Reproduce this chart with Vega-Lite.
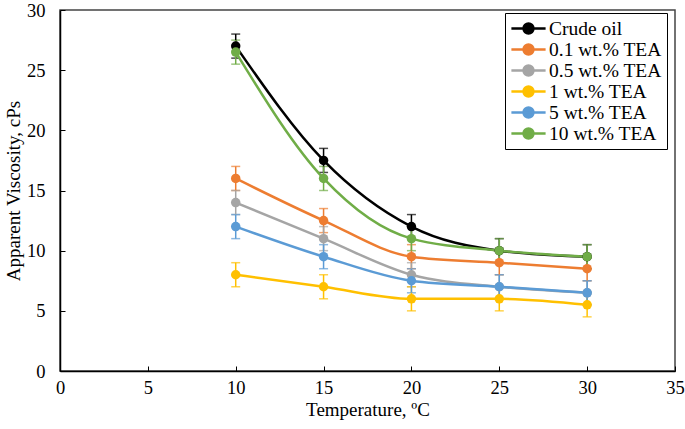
{
  "$schema": "https://vega.github.io/schema/vega-lite/v6.json",
  "width": 615,
  "height": 361,
  "autosize": "none",
  "padding": {"left": 60, "top": 10, "right": 10, "bottom": 58},
  "background": "white",
  "config": {
    "font": "'Liberation Serif', 'Times New Roman', serif",
    "view": {"stroke": "#444444", "strokeWidth": 1.5},
    "axis": {"labelFont": "'Liberation Serif', 'Times New Roman', serif", "titleFont": "'Liberation Serif', 'Times New Roman', serif", "labelFontSize": 18.5, "titleFontSize": 19, "labelColor": "black", "titleColor": "black", "titleFontWeight": "normal", "domainColor": "black", "domainWidth": 1.5, "tickColor": "black", "grid": false, "labelFlush": false},
    "legend": {"labelFont": "'Liberation Serif', 'Times New Roman', serif"}
  },
  "data": {"values": [
    {"series": "Crude oil", "temp": 10, "visc": 27, "lo": 26, "hi": 28},
    {"series": "Crude oil", "temp": 15, "visc": 17.5, "lo": 16.5, "hi": 18.5},
    {"series": "Crude oil", "temp": 20, "visc": 12, "lo": 11, "hi": 13},
    {"series": "Crude oil", "temp": 25, "visc": 10, "lo": 9, "hi": 11},
    {"series": "Crude oil", "temp": 30, "visc": 9.5, "lo": 8.5, "hi": 10.5},
    {"series": "0.1 wt.% TEA", "temp": 10, "visc": 16, "lo": 15, "hi": 17},
    {"series": "0.1 wt.% TEA", "temp": 15, "visc": 12.5, "lo": 11.5, "hi": 13.5},
    {"series": "0.1 wt.% TEA", "temp": 20, "visc": 9.5, "lo": 8.5, "hi": 10.5},
    {"series": "0.1 wt.% TEA", "temp": 25, "visc": 9, "lo": 8, "hi": 10},
    {"series": "0.1 wt.% TEA", "temp": 30, "visc": 8.5, "lo": 7.5, "hi": 9.5},
    {"series": "0.5 wt.% TEA", "temp": 10, "visc": 14, "lo": 13, "hi": 15},
    {"series": "0.5 wt.% TEA", "temp": 15, "visc": 11, "lo": 10, "hi": 12},
    {"series": "0.5 wt.% TEA", "temp": 20, "visc": 8, "lo": 7, "hi": 9},
    {"series": "0.5 wt.% TEA", "temp": 25, "visc": 7, "lo": 6, "hi": 8},
    {"series": "0.5 wt.% TEA", "temp": 30, "visc": 6.5, "lo": 5.5, "hi": 7.5},
    {"series": "1 wt.% TEA", "temp": 10, "visc": 8, "lo": 7, "hi": 9},
    {"series": "1 wt.% TEA", "temp": 15, "visc": 7, "lo": 6, "hi": 8},
    {"series": "1 wt.% TEA", "temp": 20, "visc": 6, "lo": 5, "hi": 7},
    {"series": "1 wt.% TEA", "temp": 25, "visc": 6, "lo": 5, "hi": 7},
    {"series": "1 wt.% TEA", "temp": 30, "visc": 5.5, "lo": 4.5, "hi": 6.5},
    {"series": "5 wt.% TEA", "temp": 10, "visc": 12, "lo": 11, "hi": 13},
    {"series": "5 wt.% TEA", "temp": 15, "visc": 9.5, "lo": 8.5, "hi": 10.5},
    {"series": "5 wt.% TEA", "temp": 20, "visc": 7.5, "lo": 6.5, "hi": 8.5},
    {"series": "5 wt.% TEA", "temp": 25, "visc": 7, "lo": 6, "hi": 8},
    {"series": "5 wt.% TEA", "temp": 30, "visc": 6.5, "lo": 5.5, "hi": 7.5},
    {"series": "10 wt.% TEA", "temp": 10, "visc": 26.5, "lo": 25.5, "hi": 27.5},
    {"series": "10 wt.% TEA", "temp": 15, "visc": 16, "lo": 15, "hi": 17},
    {"series": "10 wt.% TEA", "temp": 20, "visc": 11, "lo": 10, "hi": 12},
    {"series": "10 wt.% TEA", "temp": 25, "visc": 10, "lo": 9, "hi": 11},
    {"series": "10 wt.% TEA", "temp": 30, "visc": 9.5, "lo": 8.5, "hi": 10.5}
  ]},
  "encoding": {
    "x": {"field": "temp", "type": "quantitative", "scale": {"domain": [0, 35], "nice": false}, "axis": {"title": "Temperature, ºC", "values": [0,5,10,15,20,25,30,35], "tickSize": -5, "labelPadding": 12, "titlePadding": 4}},
    "color": {"field": "series", "type": "nominal", "scale": {"domain": ["Crude oil", "0.1 wt.% TEA", "0.5 wt.% TEA", "1 wt.% TEA", "5 wt.% TEA", "10 wt.% TEA"], "range": ["#000000", "#ED7D31", "#A5A5A5", "#FFC000", "#5B9BD5", "#70AD47"]},
      "legend": {"title": null, "orient": "none", "legendX": 445, "legendY": 3, "strokeColor": "black", "fillColor": "white", "padding": 5, "labelFontSize": 19.5, "labelColor": "black", "labelOffset": 10, "rowPadding": 0, "symbolType": "M-1.9,0H1.9M-0.55,0A0.55,0.55,0,1,0,0.55,0A0.55,0.55,0,1,0,-0.55,0Z", "symbolSize": 324, "symbolStrokeWidth": 2.5, "symbolOpacity": 1, "symbolOffset": 8}},
    "order": {"field": "temp"}
  },
  "layer": [
    {"mark": {"type": "errorbar", "ticks": {"size": 9, "thickness": 1.5}, "thickness": 1.5},
     "encoding": {"y": {"field": "lo", "type": "quantitative", "title": "Apparent Viscosity, cPs"}, "y2": {"field": "hi"}}},
    {"mark": {"type": "line", "interpolate": "monotone", "strokeWidth": 2.5},
     "encoding": {"y": {"field": "visc", "type": "quantitative", "scale": {"domain": [0, 30], "nice": false}, "axis": {"title": "Apparent Viscosity, cPs", "values": [0,5,10,15,20,25,30], "tickSize": -5, "labelPadding": 20, "titlePadding": 3}}}},
    {"mark": {"type": "point", "filled": true, "size": 90, "opacity": 1},
     "encoding": {"y": {"field": "visc", "type": "quantitative", "title": "Apparent Viscosity, cPs"}}}
  ]
}
